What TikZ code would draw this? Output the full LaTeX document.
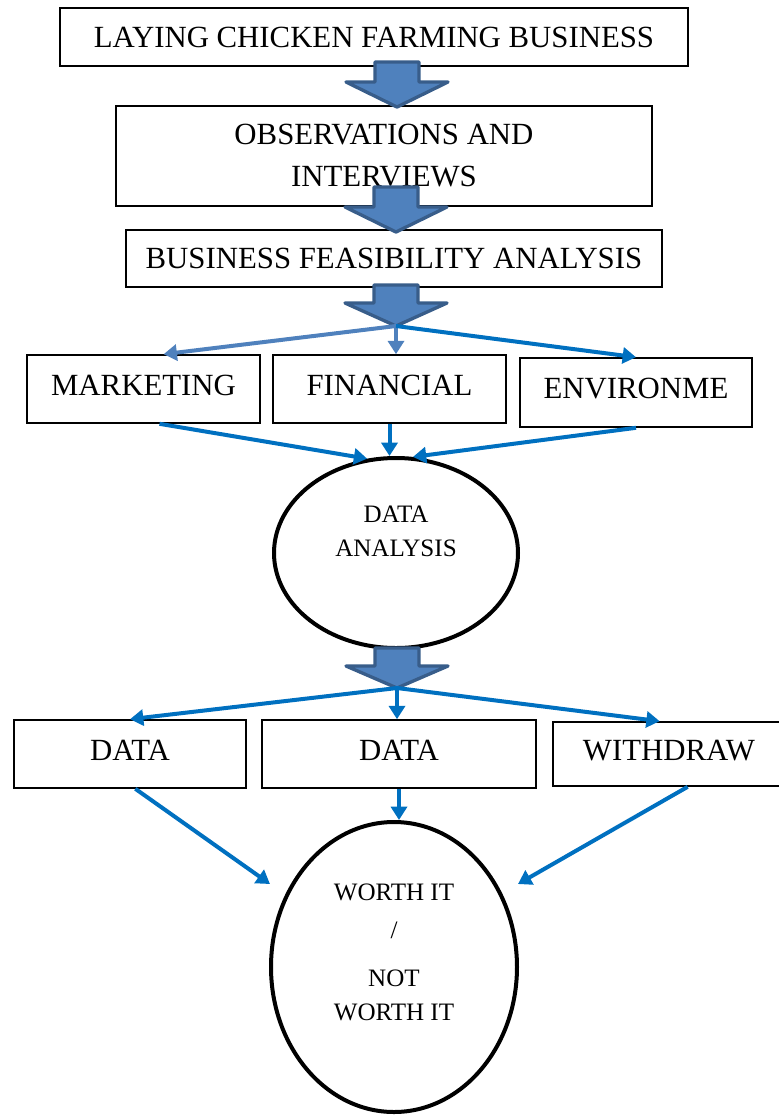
\documentclass[tikz,border=0pt]{standalone}
\usepackage{fontspec}
\setmainfont{Liberation Serif}
\usetikzlibrary{shapes.geometric,arrows.meta}
\definecolor{linkblue}{RGB}{0,112,192}
\definecolor{paleblue}{RGB}{79,129,189}
\definecolor{darkblue}{RGB}{56,93,138}
\tikzset{
  box/.style={draw,line width=1.2pt,fill=white,inner sep=0pt,align=center,
    font=\fontsize{23.1}{31.5}\selectfont},
  rowbox/.style={box,text depth=6pt},
  oval/.style={draw,ellipse,line width=3pt,inner sep=0pt},
  ovaltext/.style={align=center,font=\fontsize{18.8}{25.5}\selectfont},
  link/.style={linkblue,line width=3pt,-{Triangle[length=10pt,width=12pt]}},
  blockarr/.style={fill=paleblue,draw=darkblue,line width=2.5pt,line join=round}
}
\newcommand{\blockarrow}[5]{%
  \draw[blockarr] (#2-22,#3) -- (#2+22,#3) -- (#2+22,#4) -- (#2+51,#4)
    -- (#2,#5) coordinate (#1) -- (#2-51,#4) -- (#2-22,#4) -- cycle;}
\begin{document}
\begin{tikzpicture}[x=0.75pt,y=-0.75pt]
\useasboundingbox (0,0) rectangle (779,1115);
\node[box,minimum width=471pt,minimum height=43.5pt] (lay) at (374,37) {LAYING CHICKEN FARMING BUSINESS};
\node[box,minimum width=402pt,minimum height=75pt] (obs) at (384,156) {OBSERVATIONS AND\\INTERVIEWS};
\node[box,minimum width=402pt,minimum height=42.75pt] (bfa) at (394,258.5) {BUSINESS FEASIBILITY ANALYSIS};
\node[rowbox,minimum width=174.75pt,minimum height=51pt] (mkt) at (143.5,389) {MARKETING};
\node[rowbox,minimum width=174.75pt,minimum height=51pt] (fin) at (389.5,389) {FINANCIAL};
\node[rowbox,minimum width=174pt,minimum height=51.75pt] (env) at (636,392.5) {ENVIRONME};
\node[oval,minimum width=183pt,minimum height=142.5pt] (ana) at (396,553) {};
\node[ovaltext] (anatext) at (396,531) {DATA\\ANALYSIS};
\node[rowbox,minimum width=174pt,minimum height=51pt] (dat1) at (130,754) {DATA};
\node[rowbox,minimum width=205.5pt,minimum height=51pt] (dat2) at (399,754) {DATA};
\node[rowbox,minimum width=174pt,minimum height=48pt] (wdr) at (669,754) {WITHDRAW};
\node[oval,minimum width=184.5pt,minimum height=217.5pt] (wrt) at (394,967) {};
\node[ovaltext] (wrttext) at (394,952.5) {WORTH IT\\[3pt]/\\[11pt]NOT\\WORTH IT};
\coordinate (wl) at (270,884);
\coordinate (wr) at (518,884);

\blockarrow{t1}{397}{62}{82}{107}
\blockarrow{t2}{396}{187}{207}{232}
\blockarrow{t3}{396}{285}{303}{326}
\blockarrow{t4}{397}{648}{666}{688}

\draw[link,paleblue] (t3) -- (mkt.60);
\draw[link,paleblue] (t3) -- (t3 |- fin.north);
\draw[link] (t3) -- (env.north);
\draw[link] ([xshift=12pt]mkt.south) -- (ana.107);
\draw[link] (fin.south) -- (fin.south |- ana.north);
\draw[link] (env.south) -- (ana.80);

\draw[link] (t4) -- (dat1.north);
\draw[link] (t4) -- (t4 |- dat2.north);
\draw[link] (t4) -- ([xshift=-7pt]wdr.north);
\draw[link] ([xshift=4pt]dat1.south) -- (wl);
\draw[link] (dat2.south) -- (dat2.south |- wrt.north);
\draw[link] ([xshift=14pt]wdr.south) -- (wr);
\end{tikzpicture}
\end{document}
